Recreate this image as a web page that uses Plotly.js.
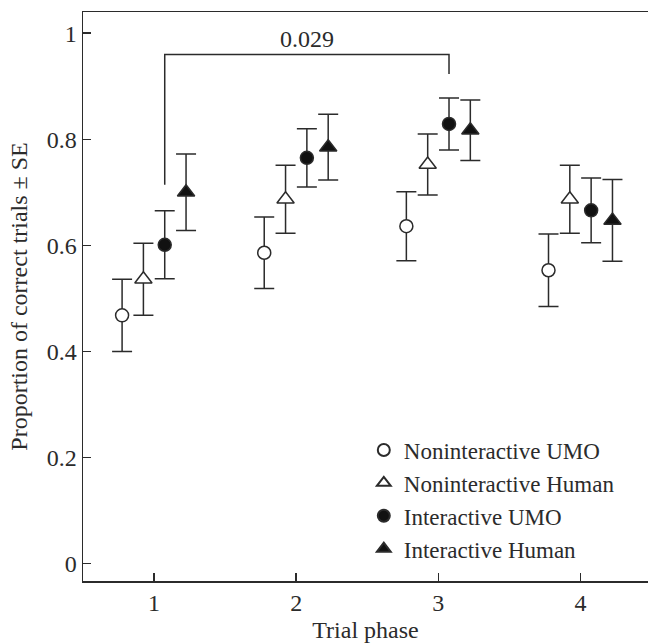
<!DOCTYPE html>
<html>
<head>
<meta charset="utf-8">
<script src="https://cdn.plot.ly/plotly-3.0.1.min.js"></script>
<style>html,body{margin:0;padding:0;background:#fff;overflow:hidden}</style>
</head>
<body>
<div id="chart" style="width:648px;height:643px"></div>
<script>
const phases = [1, 2, 3, 4];
const seriesNames = ["Noninteractive UMO", "Noninteractive Human", "Interactive UMO", "Interactive Human"];
const nonUMO = [0.468, 0.586, 0.636, 0.553];
const nonUMOse = [0.068, 0.0675, 0.065, 0.0685];
const nonHuman = [0.536, 0.687, 0.7525, 0.687];
const nonHumanSe = [0.068, 0.064, 0.0575, 0.064];
const intUMO = [0.601, 0.765, 0.829, 0.666];
const intUMOse = [0.064, 0.055, 0.049, 0.061];
const intHuman = [0.700, 0.785, 0.817, 0.647];
const intHumanSe = [0.072, 0.062, 0.057, 0.077];
const pLabel = "0.029";
const bracketPhases = [1, 3];   // compared: Interactive UMO at phase 1 vs phase 3
const bracketLevels = [0.714, 0.960, 0.923];

const ink = "#2b2b2b";
const font = "Liberation Serif, Times New Roman, serif";
const offsets = [-0.225, -0.075, 0.075, 0.225];
const values = [nonUMO, nonHuman, intUMO, intHuman];
const ses = [nonUMOse, nonHumanSe, intUMOse, intHumanSe];
const symbols = ["circle", "triangle-up", "circle", "triangle-up"];
const fills = ["#ffffff", "#ffffff", "#111111", "#111111"];
const sizes = [13, 15, 13, 15];

const traces = values.map((v, i) => ({
  type: "scatter",
  mode: "markers",
  name: seriesNames[i],
  x: phases.map(p => p + offsets[i]),
  y: v,
  error_y: {type: "data", array: ses[i], visible: true, color: ink, thickness: 1.5, width: 10},
  marker: {symbol: symbols[i], size: sizes[i], color: fills[i], line: {color: ink, width: 1.5}},
  cliponaxis: false
}));

const bx1 = bracketPhases[0] + offsets[2];
const bx2 = bracketPhases[1] + offsets[2];

const layout = {
  width: 648, height: 643,
  margin: {l: 83, r: 0, t: 12, b: 62},
  paper_bgcolor: "#fff", plot_bgcolor: "#fff",
  font: {family: font, size: 24, color: ink},
  showlegend: true,
  legend: {x: 0.497, y: 0.268, xanchor: "left", yanchor: "top", bgcolor: "rgba(0,0,0,0)",
           font: {family: font, size: 23, color: ink}, itemsizing: "constant", tracegroupgap: 0},
  xaxis: {range: [0.5, 4.475], tickvals: phases, ticktext: phases.map(String),
          showgrid: false, zeroline: false, showline: true, linecolor: ink, linewidth: 1.5, mirror: true,
          ticks: "inside", ticklen: 8, tickwidth: 1.5, tickcolor: ink,
          tickfont: {family: font, size: 24, color: ink},
          title: {text: "Trial phase", font: {family: font, size: 24, color: ink}, standoff: 6}},
  yaxis: {range: [-0.033, 1.040], tickvals: [0, 0.2, 0.4, 0.6, 0.8, 1], ticktext: ["0", "0.2", "0.4", "0.6", "0.8", "1"],
          showgrid: false, zeroline: false, showline: true, linecolor: ink, linewidth: 1.5, mirror: false,
          ticks: "inside", ticklen: 8, tickwidth: 1.5, tickcolor: ink,
          tickfont: {family: font, size: 24, color: ink},
          title: {text: "Proportion of correct trials ± SE", font: {family: font, size: 24, color: ink}, standoff: 12}},
  shapes: [{type: "path", xref: "x", yref: "y",
            path: `M ${bx1},${bracketLevels[0]} L ${bx1},${bracketLevels[1]} L ${bx2},${bracketLevels[1]} L ${bx2},${bracketLevels[2]}`,
            line: {color: ink, width: 1.5}}],
  annotations: [{x: (bx1 + bx2) / 2, y: bracketLevels[1], xref: "x", yref: "y", yanchor: "bottom",
                 text: pLabel, showarrow: false, font: {family: font, size: 24, color: ink}, yshift: 0}]
};

Plotly.newPlot("chart", traces, layout, {displayModeBar: false, staticPlot: true});
</script>
</body>
</html>
